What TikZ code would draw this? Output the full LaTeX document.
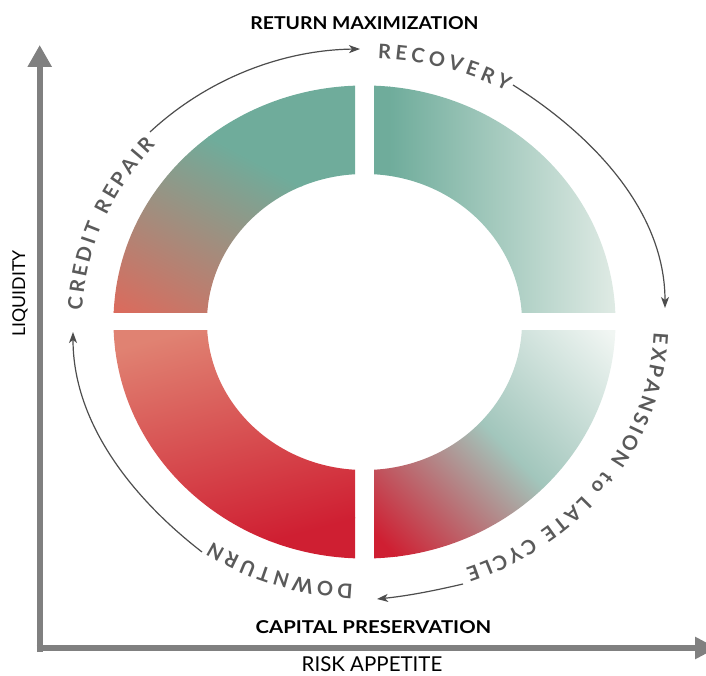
\documentclass[tikz,border=0pt]{standalone}
\usepackage{fontspec}
\setmainfont{Lato}
\usetikzlibrary{arrows.meta,decorations.text,calc}
\definecolor{ctealA}{HTML}{6FAC9B}
\definecolor{clightA}{HTML}{E0EBE5}
\definecolor{clightB}{HTML}{F1F6F3}
\definecolor{ctealB}{HTML}{A2C6BC}
\definecolor{credA}{HTML}{CF1F32}
\definecolor{csalA}{HTML}{DC6A5C}
\definecolor{csalB}{HTML}{E08272}
\definecolor{caxis}{HTML}{808080}
\definecolor{carrow}{HTML}{4D4D4D}
\definecolor{clbl}{HTML}{5A5A5A}
\newcommand\curvefnt{\bfseries\fontsize{20}{24}\selectfont}
\begin{document}
\begin{tikzpicture}[x=1pt,y=1pt,
  cyc/.style={draw=carrow, line width=1.2pt, -{Stealth[length=11pt,width=8pt,inset=3pt]}},
  axisline/.style={draw=caxis, line width=6pt},
  boldlbl/.style={font=\bfseries\fontsize{17.7}{20}\selectfont, text=black, inner sep=0pt, anchor=base},
  axlbl/.style={text=black, inner sep=0pt, anchor=base},
  curvetext/.style={decorate, decoration={text along path, text align={fit to path}, text color=clbl, text={|\curvefnt|#1}}}
]
\useasboundingbox (0,0) rectangle (706,675);
\coordinate (C) at (364.5,353);
\coordinate (T) at (368,353.5);

% ---- top-left piece
\begin{scope}
\clip ($(C)+(-260,9)$) rectangle ($(C)+(-9.5,250)$);
\clip ($(C)+(180:251 and 236.5)$) arc[start angle=180,end angle=90,x radius=251,y radius=236.5]
  -- ($(C)+(90:157.5 and 148)$) arc[start angle=90,end angle=180,x radius=157.5,y radius=148] -- cycle;
\begin{scope}[transform canvas={rotate around={-28:(115pt,362pt)}}, shift={(115,362)}]
\fill[csalA] (-500,-500) rectangle (500,1);
\fill[ctealA] (-500,199) rectangle (500,700);
\shade[bottom color=csalA, top color=ctealA] (-500,0) rectangle (500,200);
\end{scope}
\end{scope}

% ---- top-right piece
\begin{scope}
\clip ($(C)+(9.5,9)$) rectangle ($(C)+(260,250)$);
\clip ($(C)+(90:251 and 236.5)$) arc[start angle=90,end angle=0,x radius=251,y radius=236.5]
  -- ($(C)+(0:157.5 and 148)$) arc[start angle=0,end angle=90,x radius=157.5,y radius=148] -- cycle;
\fill[ctealA] (360,350) rectangle (390,600);
\shade[left color=ctealA, right color=clightA] (389,350) rectangle (617,600);
\end{scope}

% ---- bottom-right piece
\begin{scope}
\clip ($(C)+(9.5,-9)$) rectangle ($(C)+(260,-250)$);
\clip ($(C)+(0:251 and 236.5)$) arc[start angle=0,end angle=-90,x radius=251,y radius=236.5]
  -- ($(C)+(-90:157.5 and 148)$) arc[start angle=-90,end angle=0,x radius=157.5,y radius=148] -- cycle;
\begin{scope}[transform canvas={rotate around={-46:(385pt,130pt)}}, shift={(385,130)}]
\fill[credA] (-500,-500) rectangle (500,1);
\fill[clightB] (-500,309) rectangle (500,800);
\shade[bottom color=credA, top color=clightB, middle color=ctealB] (-500,0) rectangle (500,310);
\end{scope}
\end{scope}

% ---- bottom-left piece
\begin{scope}
\clip ($(C)+(-9.5,-9)$) rectangle ($(C)+(-260,-250)$);
\clip ($(C)+(-90:251 and 236.5)$) arc[start angle=-90,end angle=-180,x radius=251,y radius=236.5]
  -- ($(C)+(-180:157.5 and 148)$) arc[start angle=-180,end angle=-90,x radius=157.5,y radius=148] -- cycle;
\begin{scope}[transform canvas={rotate around={15:(330pt,150pt)}}, shift={(330,150)}]
\fill[credA] (-500,-500) rectangle (500,1);
\fill[csalB] (-500,224) rectangle (500,800);
\shade[bottom color=credA, top color=csalB] (-500,0) rectangle (500,225);
\end{scope}
\end{scope}

% ---- axes
\coordinate (vbot) at (39.7,23);
\coordinate (vtop) at (39.7,630);
\coordinate (hleft) at (36.7,27);
\coordinate (hright) at (717,27);
\draw[axisline, -{Triangle[length=22pt,width=23pt]}] (vbot) -- (vtop);
\draw[axisline, -{Triangle[length=22pt,width=21pt]}] (hleft) -- (hright);

% ---- labels
\node[boldlbl, xscale=1.095] (retmax) at (364.5,645) {RETURN MAXIMIZATION};
\node[boldlbl, xscale=1.15] (cappres) at (373.5,41.7) {CAPITAL PRESERVATION};
\node[axlbl, font=\fontsize{20.5}{24}\selectfont] (risk) at (372,3.5) {RISK APPETITE};
\node[axlbl, font=\fontsize{17.7}{20}\selectfont, rotate=90] (liq) at (25,381.5) {LIQUIDITY};

% ---- curved phase texts
\path[curvetext={RECOVERY}] ($(T)+(88:286 and 263)$) arc[start angle=88,end angle=61,x radius=286,y radius=263];
\path[curvetext={CREDIT REPAIR}] ($(T)+(177.5:286 and 263)$) arc[start angle=177.5,end angle=138,x radius=286,y radius=263];
\path[curvetext={EXPANSION to LATE CYCLE}] ($(T)+(-2.5:286 and 263)$) arc[start angle=-2.5,end angle=-70,x radius=286,y radius=263];
\path[curvetext={DOWNTURN}] ($(T)+(-93:286 and 263)$) arc[start angle=-93,end angle=-123,x radius=286,y radius=263];

% ---- cycle arrows
\coordinate (a1s) at (150,543); \coordinate (a1e) at (360,626);
\coordinate (a2s) at (513,590); \coordinate (a2e) at (665,367);
\coordinate (a3s) at (463,91);  \coordinate (a3e) at (377,76);
\coordinate (a4s) at (202,123); \coordinate (a4e) at (73,343);
\draw[cyc] (a1s) .. controls (207,596) and (282,625) .. (a1e);
\draw[cyc] (a2s) .. controls (594,539) and (665,463) .. (a2e);
\draw[cyc] (a3s) .. controls (433,84) and (407,79) .. (a3e);
\draw[cyc] (a4s) .. controls (131,178) and (73,253) .. (a4e);
\end{tikzpicture}
\end{document}
